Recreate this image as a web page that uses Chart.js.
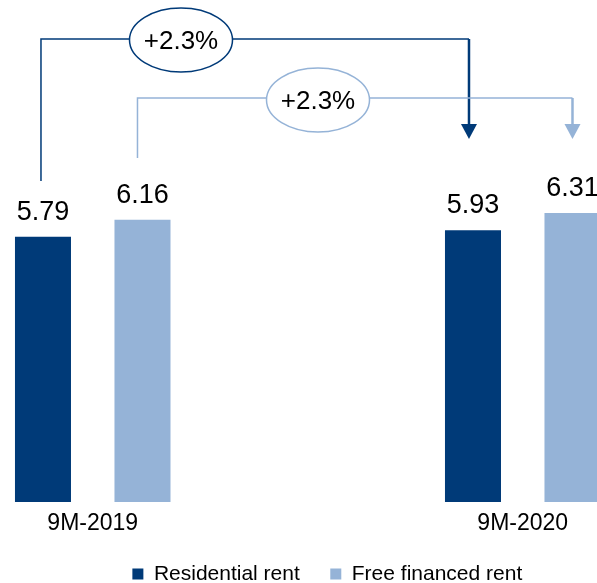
<!DOCTYPE html>
<html>
<head>
<meta charset="utf-8">
<script src="https://cdn.jsdelivr.net/npm/chart.js@4.4.1/dist/chart.umd.min.js"></script>
<style>
  html, body { margin: 0; padding: 0; background: #fff; }
</style>
</head>
<body>
<canvas id="rentChart" width="597" height="583"></canvas>
<script>
// chart data
const periods = ['9M-2019', '9M-2020'];
const residentialRent = [5.79, 5.93];
const freeFinancedRent = [6.16, 6.31];
const growthLabels = ['+2.3%', '+2.3%'];
const seriesNames = ['Residential rent', 'Free financed rent'];
const seriesColors = ['#003A78', '#95B3D7'];

const FONT = '"Liberation Sans", Arial, Helvetica, sans-serif';
Chart.defaults.font.family = FONT;
Chart.defaults.color = '#000';

// value labels + the two "+2.3%" connectors between the periods
const growthArrows = {
  id: 'growthArrows',
  afterDatasetsDraw(chart) {
    const ctx = chart.ctx;
    ctx.save();

    // values above bars
    ctx.font = '27px ' + FONT;
    ctx.fillStyle = '#000';
    ctx.textAlign = 'center';
    ctx.textBaseline = 'alphabetic';
    chart.data.datasets.forEach((ds, d) => {
      chart.getDatasetMeta(d).data.forEach((bar, i) => {
        ctx.fillText(ds.data[i].y.toFixed(2), bar.x, bar.y - 17);
      });
    });

    // connector settings per series (pixel positions)
    const rows = [
      { lineY: 39, startY: 181, dx0: -2, dx1: -4, cx: 181, cy: 40 },
      { lineY: 98, startY: 158, dx0: -5, dx1: 0, cx: 318, cy: 100 }
    ];
    const tipY = 139;
    const headLen = 15;
    const headHalf = 8;

    rows.forEach((r, d) => {
      const bars = chart.getDatasetMeta(d).data;
      const x0 = bars[0].x + r.dx0;
      const x1 = bars[1].x + r.dx1;
      const color = seriesColors[d];
      ctx.strokeStyle = color;
      ctx.fillStyle = color;

      ctx.lineWidth = 1.5;
      ctx.beginPath();
      ctx.moveTo(x0, r.startY);
      ctx.lineTo(x0, r.lineY);
      ctx.lineTo(x1, r.lineY);
      ctx.stroke();

      ctx.lineWidth = 2.5;
      ctx.beginPath();
      ctx.moveTo(x1, r.lineY);
      ctx.lineTo(x1, tipY - headLen + 1);
      ctx.stroke();

      ctx.beginPath();
      ctx.moveTo(x1 - headHalf, tipY - headLen);
      ctx.lineTo(x1 + headHalf, tipY - headLen);
      ctx.lineTo(x1, tipY);
      ctx.closePath();
      ctx.fill();

      // bubble with growth
      ctx.beginPath();
      ctx.ellipse(r.cx, r.cy, 51.5, 32, 0, 0, Math.PI * 2);
      ctx.fillStyle = '#fff';
      ctx.fill();
      ctx.lineWidth = 1.5;
      ctx.stroke();

      ctx.fillStyle = '#000';
      ctx.font = '26px ' + FONT;
      ctx.textAlign = 'center';
      ctx.textBaseline = 'middle';
      ctx.fillText(growthLabels[d], r.cx, r.cy + 2);
    });

    ctx.restore();
  }
};

new Chart(document.getElementById('rentChart'), {
  type: 'bar',
  data: {
    datasets: [
      {
        label: seriesNames[0],
        data: residentialRent.map((v, i) => ({ x: i, y: v })),
        backgroundColor: seriesColors[0],
        categoryPercentage: 0.4628,
        barPercentage: 0.563,
        clip: false
      },
      {
        label: seriesNames[1],
        data: freeFinancedRent.map((v, i) => ({ x: i, y: v })),
        backgroundColor: seriesColors[1],
        categoryPercentage: 0.4628,
        barPercentage: 0.563,
        clip: false
      }
    ]
  },
  options: {
    responsive: false,
    animation: false,
    devicePixelRatio: 1,
    layout: { padding: { left: 57.6, right: 0, top: 21, bottom: -11.5 } },
    scales: {
      x: {
        type: 'linear',
        offset: false,
        bounds: 'data',
        min: -0.0817,
        max: 1.1727,
        grid: { display: false, drawTicks: false, offset: false },
        border: { display: false },
        afterBuildTicks: scale => {
          scale.ticks = periods.map((p, i) => ({ value: i }));
        },
        afterFit: scale => {
          scale.paddingLeft = 0;
          scale.paddingRight = 0;
          scale.height = 31;
        },
        ticks: {
          callback: v => periods[v],
          font: { size: 23, lineHeight: 1 },
          color: '#000',
          padding: 10.5,
          maxRotation: 0,
          autoSkip: false
        }
      },
      y: { display: false, min: 0, max: 10.5, bounds: 'data' }
    },
    plugins: {
      legend: {
        position: 'bottom',
        align: 'center',
        labels: {
          boxWidth: 11,
          boxHeight: 11,
          padding: 30.5,
          font: { size: 21 },
          color: '#000'
        }
      },
      tooltip: { enabled: false }
    }
  },
  plugins: [growthArrows]
});
</script>
</body>
</html>
